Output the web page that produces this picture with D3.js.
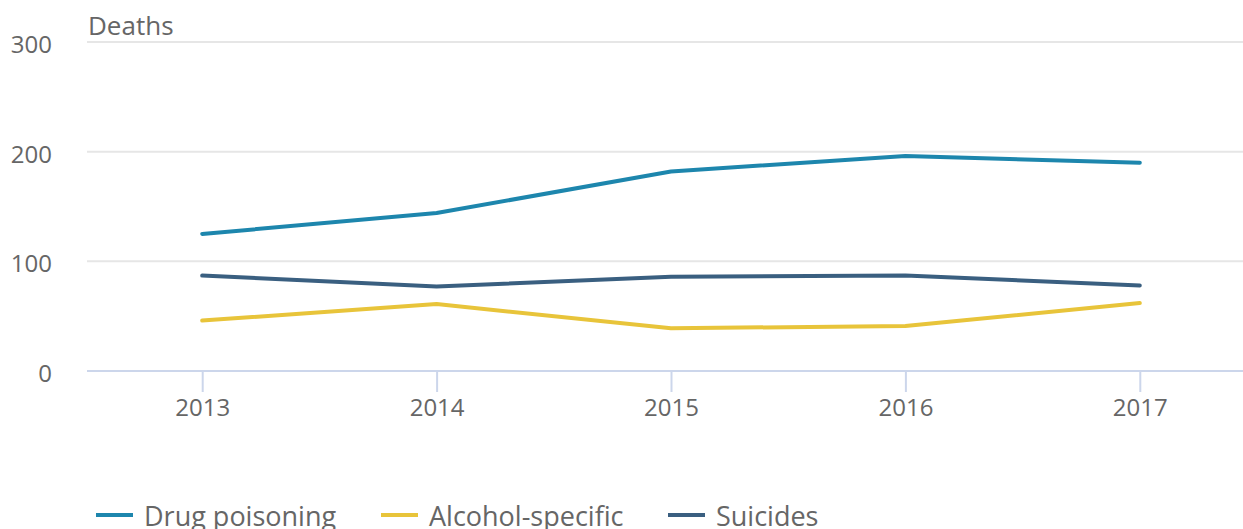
<!DOCTYPE html>
<html><head><meta charset="utf-8">
<script src="https://cdn.jsdelivr.net/npm/d3@7"></script>
<style>html,body{margin:0;padding:0;background:#fff;}svg{display:block;font-family:"Open Sans",sans-serif;}</style>
</head><body>
<svg id="chart" width="1243" height="529"></svg>
<script>
const years = ["2013","2014","2015","2016","2017"];
const drugPoisoning = [125, 144, 182, 196, 190];
const alcoholSpecific = [46, 61, 39, 41, 62];
const suicides = [87, 77, 86, 87, 78];
const yTicks = [0, 100, 200, 300];
const seriesNames = ["Drug poisoning", "Alcohol-specific", "Suicides"];
const seriesColors = ["#1d86ad", "#e8c43a", "#3a5f80"];

const series = [drugPoisoning, alcoholSpecific, suicides].map((v, i) => ({name: seriesNames[i], color: seriesColors[i], values: v}));

const W = 1243, H = 529;
const svg = d3.select("#chart");
const x = d3.scalePoint().domain(years).range([85, 1257]).padding(0.5);
const y = d3.scaleLinear().domain([0, 300]).range([371, 42]);

// gridlines
svg.append("g").selectAll("line").data(yTicks.filter(d => d !== 0)).join("line")
  .attr("x1", 87).attr("x2", W).attr("y1", d => y(d)).attr("y2", d => y(d))
  .attr("stroke", "#e6e6e6").attr("stroke-width", 2);

// y labels
svg.append("g").selectAll("text").data(yTicks).join("text")
  .attr("x", 52).attr("y", d => y(d) + 11).attr("text-anchor", "end")
  .attr("fill", "#666").attr("font-size", 24).text(d => d);

// axis title
svg.append("text").attr("x", 88).attr("y", 35).attr("fill", "#666").attr("font-size", 26).text("Deaths");

// x axis
const xAxis = d3.axisBottom(x).tickSize(21).tickPadding(6);
const gx = svg.append("g").attr("transform", `translate(0,${y(0)})`).call(xAxis);
gx.select(".domain").remove();
gx.selectAll(".tick line").attr("stroke", "#ccd6eb").attr("stroke-width", 2);
gx.selectAll(".tick text").attr("fill", "#666").attr("font-size", 24).attr("font-family", "Open Sans, sans-serif").attr("dy", "0.75em");
gx.append("line").attr("x1", 87).attr("x2", W).attr("y1", 0).attr("y2", 0).attr("stroke", "#ccd6eb").attr("stroke-width", 2);

// lines
const line = d3.line().x((d, i) => x(years[i])).y(d => y(d));
svg.append("g").selectAll("path").data(series).join("path")
  .attr("d", d => line(d.values)).attr("fill", "none")
  .attr("stroke", d => d.color).attr("stroke-width", 4)
  .attr("stroke-linecap", "round").attr("stroke-linejoin", "round");

// legend
const legendX = [96, 381, 668];
const lg = svg.append("g").selectAll("g").data(series).join("g")
  .attr("transform", (d, i) => `translate(${legendX[i]},515)`);
lg.append("line").attr("x1", 0).attr("x2", 37).attr("y1", 0).attr("y2", 0)
  .attr("stroke", d => d.color).attr("stroke-width", 4);
lg.append("text").attr("x", 48).attr("y", 11).attr("fill", "#666").attr("font-size", 27).text(d => d.name);
</script>
</body></html>
